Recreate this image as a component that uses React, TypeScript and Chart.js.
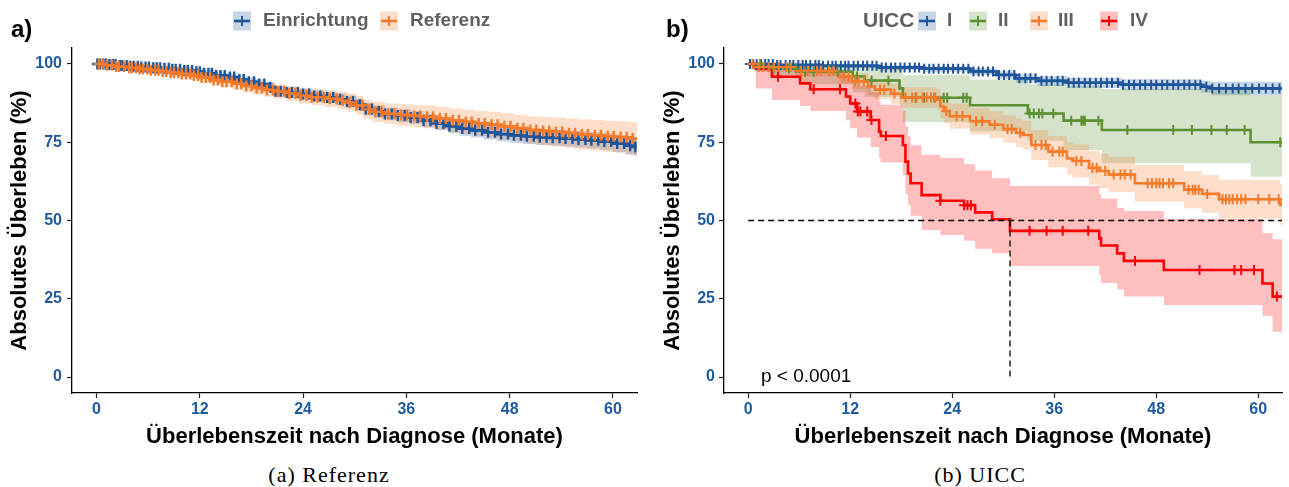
import React, { useEffect, useRef } from 'react';
import { Chart, registerables } from 'chart.js';
Chart.register(...registerables);

// ---------- axes ----------
const X_TICKS = [0, 12, 24, 36, 48, 60];
const Y_TICKS = [0, 25, 50, 75, 100];
const X_MIN = -2.85;
const X_MAX = 62.8;
const Y_MIN = -5.1;
const Y_MAX = 105.1;

// ---------- panel a: Einrichtung ----------
const EIN_T = [0, 1.2, 2.5, 3.8, 5.0, 6.3, 7.5, 8.8, 10.0, 11.2, 12.5, 13.7, 15.0, 16.2, 17.4, 18.5, 19.6, 20.7, 22.0, 23.5, 25.0, 26.3, 27.8, 29.0, 30.2, 31.0, 32.2, 33.5, 35.0, 36.5, 38.0, 39.5, 41.0, 42.2, 43.5, 45.0, 46.5, 48.0, 49.5, 51.0, 52.5, 54.0, 55.5, 57.0, 58.5, 60.0, 61.5, 62.5];
const EIN_S = [100, 99.8, 99.5, 99.3, 99.0, 98.8, 98.6, 98.3, 97.9, 97.5, 97.0, 96.3, 95.8, 95.0, 94.3, 93.6, 92.6, 91.3, 90.9, 90.4, 89.8, 89.3, 88.7, 88.0, 87.0, 85.6, 84.8, 84.0, 83.5, 82.9, 81.9, 81.0, 80.1, 79.4, 78.8, 78.2, 77.6, 77.2, 76.9, 76.6, 76.4, 76.2, 75.9, 75.6, 75.2, 74.6, 73.9, 73.5];
const EIN_LO = [100, 99.4, 99.0, 98.7, 98.3, 98.0, 97.7, 97.3, 96.8, 96.4, 95.8, 95.0, 94.4, 93.5, 92.8, 92.0, 91.0, 89.6, 89.2, 88.6, 88.0, 87.5, 86.9, 86.1, 85.1, 83.6, 82.8, 82.0, 81.4, 80.8, 79.8, 78.8, 77.9, 77.1, 76.5, 75.9, 75.2, 74.8, 74.4, 74.1, 73.9, 73.6, 73.3, 73.0, 72.5, 71.9, 71.1, 70.6];
const EIN_HI = [100, 100, 100, 99.9, 99.7, 99.5, 99.4, 99.2, 98.9, 98.6, 98.2, 97.6, 97.1, 96.4, 95.8, 95.1, 94.2, 93.0, 92.6, 92.1, 91.6, 91.1, 90.6, 89.9, 88.9, 87.6, 86.8, 86.0, 85.6, 85.0, 84.0, 83.2, 82.3, 81.7, 81.1, 80.5, 80.0, 79.6, 79.4, 79.1, 78.9, 78.8, 78.5, 78.2, 77.9, 77.3, 76.7, 76.4];
const EIN_CENSOR = [0.1, 0.4, 0.8, 1.1, 1.5, 1.9, 2.2, 2.7, 3.0, 3.5, 3.9, 4.3, 4.8, 5.2, 5.7, 6.1, 6.6, 7.0, 7.4, 7.9, 8.4, 8.8, 9.2, 9.7, 10.2, 10.6, 11.1, 11.6, 12.0, 12.5, 13.0, 13.4, 13.9, 14.4, 14.9, 15.5, 16.0, 16.6, 17.1, 17.7, 18.3, 18.9, 19.5, 20.2, 20.8, 21.4, 22.1, 22.7, 23.4, 24.0, 24.7, 25.3, 26.0, 26.8, 27.5, 28.3, 29.1, 29.8, 30.6, 31.3, 32.0, 32.8, 33.5, 34.3, 35.0, 35.8, 36.5, 37.3, 38.0, 38.8, 39.5, 40.3, 41.0, 41.8, 42.5, 43.3, 44.0, 44.8, 45.5, 46.3, 47.0, 47.8, 48.5, 49.3, 50.0, 50.8, 51.5, 52.3, 53.0, 53.8, 54.5, 55.3, 56.0, 56.8, 57.5, 58.3, 59.0, 59.8, 60.5, 61.3, 62.0, 62.6];

// ---------- panel a: Referenz ----------
const REF_T = [0, 1.0, 2.2, 3.5, 4.8, 6.0, 7.3, 8.5, 9.8, 11.0, 12.2, 13.4, 14.6, 15.8, 17.0, 18.2, 19.4, 20.6, 22.0, 23.5, 25.0, 26.5, 28.0, 29.2, 30.2, 31.0, 32.0, 33.5, 35.0, 36.5, 38.0, 39.5, 41.0, 42.5, 44.0, 45.5, 47.0, 48.5, 50.0, 51.5, 53.0, 54.5, 56.0, 57.5, 59.0, 60.5, 62.0];
const REF_S = [100, 99.6, 99.2, 98.8, 98.4, 98.0, 97.6, 97.2, 96.8, 96.3, 95.7, 94.9, 94.3, 93.7, 93.0, 92.3, 91.7, 91.2, 90.6, 89.9, 89.4, 88.9, 88.3, 87.7, 86.8, 85.5, 84.7, 84.1, 83.7, 83.4, 83.1, 82.6, 82.0, 81.5, 81.0, 80.6, 80.1, 79.5, 78.9, 78.6, 78.3, 77.9, 77.5, 77.2, 76.9, 76.6, 76.2];
const REF_LO = [100, 99.0, 98.4, 97.9, 97.4, 96.9, 96.4, 95.9, 95.4, 94.8, 94.1, 93.2, 92.5, 91.8, 91.0, 90.2, 89.5, 88.9, 88.2, 87.4, 86.8, 86.2, 85.5, 84.8, 83.8, 82.4, 81.5, 80.8, 80.3, 79.9, 79.5, 78.9, 78.2, 77.6, 77.0, 76.5, 75.9, 75.2, 74.5, 74.1, 73.7, 73.2, 72.7, 72.3, 71.9, 71.5, 71.0];
const REF_HI = [100, 100, 100, 99.7, 99.4, 99.1, 98.8, 98.5, 98.2, 97.8, 97.3, 96.6, 96.1, 95.6, 95.0, 94.4, 93.9, 93.5, 93.0, 92.4, 92.0, 91.6, 91.1, 90.6, 89.8, 88.6, 87.9, 87.4, 87.1, 86.9, 86.7, 86.3, 85.8, 85.4, 85.0, 84.7, 84.3, 83.8, 83.3, 83.1, 82.9, 82.6, 82.3, 82.1, 81.9, 81.7, 81.4];
const REF_CENSOR = [0.3, 0.7, 1.2, 1.8, 2.3, 2.6, 3.2, 3.8, 4.1, 4.6, 5.0, 5.4, 5.9, 6.3, 6.8, 7.2, 7.7, 8.1, 8.6, 9.0, 9.5, 9.9, 10.4, 10.9, 11.3, 11.8, 12.2, 12.7, 13.2, 13.6, 14.1, 14.6, 15.1, 15.7, 16.3, 16.8, 17.4, 18.0, 18.6, 19.2, 19.8, 20.5, 21.1, 21.8, 22.4, 23.1, 23.7, 24.4, 25.0, 25.7, 26.4, 27.1, 27.9, 28.6, 29.4, 30.2, 30.9, 31.7, 32.4, 33.1, 33.9, 34.6, 35.4, 36.1, 36.9, 37.6, 38.4, 39.1, 39.9, 40.6, 41.4, 42.1, 42.9, 43.6, 44.4, 45.1, 45.9, 46.6, 47.4, 48.1, 48.9, 49.6, 50.4, 51.1, 51.9, 52.6, 53.4, 54.1, 54.9, 55.6, 56.4, 57.1, 57.9, 58.6, 59.4, 60.1, 60.9, 61.6, 62.3];

// ---------- panel b: UICC I ----------
const I_T = [0, 3.0, 8.7, 15.3, 20.7, 26.1, 29.2, 31.5, 34.0, 37.6, 44.0, 53.3, 54.5];
const I_S = [100, 99.7, 99.4, 98.9, 98.5, 97.6, 96.5, 95.4, 94.6, 94.0, 93.4, 92.7, 92.2];
const I_LO = [100, 99.2, 98.7, 98.0, 97.5, 96.5, 95.2, 94.0, 93.0, 92.3, 91.6, 90.8, 90.0];
const I_HI = [100, 100, 100, 99.6, 99.3, 98.6, 97.7, 96.8, 96.1, 95.6, 95.1, 94.6, 94.3];
const I_CENSOR = [0.2, 0.6, 1.0, 1.5, 2.0, 2.4, 2.9, 3.4, 3.8, 4.4, 4.9, 5.3, 5.9, 6.4, 6.8, 7.3, 7.9, 8.3, 8.8, 9.4, 9.9, 10.3, 10.9, 11.4, 11.8, 12.4, 12.9, 13.5, 14.0, 14.6, 15.1, 15.7, 16.2, 16.8, 17.3, 17.9, 18.4, 19.0, 19.6, 20.1, 20.7, 21.3, 21.8, 22.4, 23.0, 23.5, 24.1, 24.7, 25.3, 25.9, 26.5, 27.1, 27.6, 28.2, 28.8, 29.5, 30.1, 30.7, 31.3, 31.9, 32.6, 33.2, 33.8, 34.5, 35.1, 35.7, 36.4, 37.0, 37.7, 38.3, 38.9, 39.6, 40.2, 40.9, 41.5, 42.2, 42.8, 43.5, 44.1, 44.8, 45.4, 46.1, 46.7, 47.4, 48.0, 48.7, 49.3, 50.0, 50.6, 51.3, 51.9, 52.6, 53.2, 53.9, 54.6, 55.4, 56.2, 57.0, 57.7, 58.5, 59.3, 60.1, 60.9, 61.7, 62.5];

// ---------- panel b: UICC II ----------
const II_T = [0, 2.5, 6.0, 12.3, 13.7, 17.8, 18.2, 26.1, 32.9, 37.1, 41.6, 59.1];
const II_S = [100, 98.6, 97.5, 96.0, 94.7, 92.2, 89.2, 86.8, 84.2, 81.9, 78.9, 75.0];
const II_LO = [100, 96.0, 93.5, 91.0, 89.5, 87.0, 81.5, 78.5, 75.5, 72.5, 68.3, 64.0];
const II_HI = [100, 100, 100, 99.5, 99.0, 98.5, 96.5, 95.0, 93.5, 93.0, 92.0, 90.0];
const II_CENSOR = [1.4, 3.0, 4.8, 5.6, 6.7, 7.7, 10.5, 12.8, 14.5, 16.5, 19.7, 20.7, 21.9, 23.0, 23.4, 25.3, 25.7, 33.1, 33.6, 34.2, 34.6, 35.9, 38.0, 39.2, 39.4, 39.6, 41.2, 44.6, 50.0, 52.2, 54.5, 56.3, 58.4, 62.6];

// ---------- panel b: UICC III ----------
const III_T = [0, 1.0, 5.6, 10.6, 12.2, 14.1, 14.9, 16.8, 18.0, 22.2, 22.6, 23.0, 23.7, 26.1, 28.4, 30.0, 31.5, 32.3, 33.3, 35.3, 37.5, 38.2, 40.1, 41.3, 42.4, 45.5, 51.3, 53.4, 55.4, 62.6];
const III_S = [100, 99.0, 97.8, 96.0, 94.5, 92.8, 91.8, 90.5, 89.3, 88.6, 86.5, 85.0, 83.3, 81.7, 80.6, 79.2, 78.0, 77.3, 74.1, 72.0, 69.8, 69.0, 66.8, 65.8, 64.7, 61.9, 59.8, 58.5, 56.8, 55.0];
const III_LO = [100, 97.5, 96.0, 93.8, 92.0, 90.0, 88.8, 87.3, 86.0, 85.2, 82.8, 81.1, 79.3, 77.5, 76.3, 74.8, 73.5, 72.7, 69.3, 67.0, 64.6, 63.7, 61.4, 60.3, 59.1, 56.1, 53.9, 52.5, 50.6, 48.5];
const III_HI = [100, 100, 99.4, 98.2, 97.0, 95.6, 94.8, 93.7, 92.6, 92.0, 90.2, 88.9, 87.3, 85.9, 84.9, 83.6, 82.5, 81.9, 78.9, 77.0, 75.0, 74.3, 72.2, 71.3, 70.3, 67.7, 65.7, 64.5, 63.0, 61.5];
const III_CENSOR = [0.5, 1.2, 1.8, 2.4, 3.0, 3.6, 4.5, 5.0, 6.2, 7.0, 8.1, 8.6, 9.5, 10.0, 11.2, 11.8, 12.6, 13.0, 13.6, 15.5, 16.0, 17.2, 18.5, 19.3, 19.8, 20.5, 21.0, 21.5, 22.0, 23.3, 24.5, 25.2, 26.8, 27.5, 29.0, 30.5, 31.0, 32.0, 33.8, 34.5, 35.0, 35.8, 36.6, 37.0, 38.6, 39.2, 40.5, 41.0, 42.0, 43.0, 43.8, 44.3, 45.0, 47.0, 47.5, 48.0, 48.4, 48.8, 49.5, 50.0, 51.8, 52.3, 52.6, 53.0, 54.0, 55.8, 56.2, 56.6, 57.0, 57.5, 58.0, 58.5, 60.0, 61.3, 62.4];

// ---------- panel b: UICC IV ----------
const IV_T = [0, 0.9, 2.8, 6.1, 7.3, 11.5, 12.0, 12.8, 14.4, 15.4, 15.6, 18.2, 18.5, 18.8, 19.1, 20.4, 22.6, 25.4, 26.7, 28.7, 30.8, 41.3, 41.5, 43.4, 44.2, 48.9, 60.5, 61.7];
const IV_S = [100, 98.4, 95.9, 93.8, 91.9, 89.6, 87.4, 84.8, 82.1, 78.4, 77.0, 74.1, 68.8, 65.0, 61.9, 58.1, 56.3, 54.9, 52.6, 50.4, 46.7, 44.3, 42.0, 39.5, 37.1, 34.2, 29.9, 25.7];
const IV_LO = [100, 92.2, 88.5, 86.6, 85.0, 82.0, 79.5, 76.5, 73.5, 70.0, 68.5, 64.5, 58.5, 55.0, 51.5, 47.0, 45.4, 43.5, 41.0, 39.5, 35.5, 32.5, 30.0, 28.0, 25.7, 23.0, 19.6, 14.5];
const IV_HI = [100, 100, 100, 99.0, 98.0, 96.0, 95.0, 93.0, 91.0, 88.0, 87.0, 85.0, 80.0, 77.0, 74.0, 71.0, 70.0, 68.0, 66.0, 63.5, 61.0, 58.5, 57.0, 54.0, 53.0, 50.5, 46.0, 44.0];
const IV_CENSOR = [3.5, 7.7, 10.8, 12.6, 12.9, 13.2, 14.0, 14.5, 16.2, 22.6, 25.4, 25.8, 26.2, 33.1, 35.1, 37.0, 40.0, 45.5, 53.1, 57.2, 58.0, 59.5, 62.2];

const MEDIAN_Y = 50;
const MEDIAN_IV_T = 30.8;
const P_TEXT = 'p < 0.0001';

// ---------- styles ----------
const FONT = '"Liberation Sans", Arial, sans-serif';
const TICK_BLUE = '#1F5A9F';
const C_BLUE = '#1F569B';
const C_ORANGE = '#F57A2A';
const C_GREEN = '#5D9132';
const C_RED = '#FF0000';
const F_BLUE = 'rgba(31,86,155,0.25)';
const F_ORANGE = 'rgba(245,122,42,0.25)';
const F_GREEN = 'rgba(93,145,50,0.25)';
const F_RED = 'rgba(255,0,0,0.25)';
const LEGEND_GREY = '#606060';

function survAt(t: number[], s: number[], x: number) {
  let v = s[0];
  for (let i = 0; i < t.length; i++) if (t[i] <= x) v = s[i];
  return v;
}

function toPts(t: number[], v: number[]) {
  const pts = t.map((x, i) => ({ x, y: v[i] }));
  pts.push({ x: X_MAX + 1, y: v[v.length - 1] });
  return pts;
}

function kmSets(color: string, fill: string, t: number[], s: number[], lo: number[], hi: number[], cens: number[], idx: number, markR: number, markW: number) {
  const bands = [
    { type: 'line', data: toPts(t, lo), stepped: true, borderColor: 'rgba(0,0,0,0)', borderWidth: 1, pointRadius: 0, fill: false, order: 100 - idx },
    { type: 'line', data: toPts(t, hi), stepped: true, borderColor: 'rgba(0,0,0,0)', borderWidth: 1, pointRadius: 0, fill: '-1', backgroundColor: fill, order: 100 - idx },
  ];
  const line = { type: 'line', data: toPts(t, s), stepped: true, borderColor: color, borderWidth: 2.6, pointRadius: 0, fill: false, order: 50 - idx };
  const marks = {
    type: 'scatter',
    data: cens.map((c) => ({ x: c, y: survAt(t, s, c) })),
    pointStyle: 'cross', pointRadius: markR, borderColor: color, backgroundColor: color, borderWidth: markW, order: 20 - idx,
  };
  return { bands, line, marks };
}

function makeOptions(yAxisWidth: number, rightPad: number, yTitlePad: number, tickPadY: number) {
  const tickFont = { family: FONT, size: 16, weight: 'bold' as const };
  const titleFont = { family: FONT, size: 22, weight: 'bold' as const };
  return {
    animation: false,
    responsive: false,
    maintainAspectRatio: false,
    events: [],
    layout: { padding: { top: 48, right: rightPad, bottom: 0, left: 0 } },
    plugins: { legend: { display: false }, tooltip: { enabled: false }, title: { display: false } },
    scales: {
      x: {
        type: 'linear', min: X_MIN, max: X_MAX,
        afterBuildTicks: (sc: any) => { sc.ticks = X_TICKS.map((v) => ({ value: v })); },
        afterFit: (sc: any) => { sc.height = 67; sc.paddingLeft = 0; sc.paddingRight = 0; },
        ticks: { color: TICK_BLUE, font: tickFont, padding: 2, maxRotation: 0, autoSkip: false },
        grid: { drawOnChartArea: false, drawTicks: true, tickLength: 5, tickColor: '#222', tickWidth: 1.2 },
        border: { display: true, color: '#000', width: 1.3 },
        title: { display: true, text: 'Überlebenszeit nach Diagnose (Monate)', color: '#000', font: titleFont, padding: { top: 0, bottom: 10 } },
      },
      y: {
        type: 'linear', min: Y_MIN, max: Y_MAX,
        afterBuildTicks: (sc: any) => { sc.ticks = Y_TICKS.map((v) => ({ value: v })); },
        afterFit: (sc: any) => { sc.width = yAxisWidth; sc.paddingTop = 0; sc.paddingBottom = 0; },
        ticks: { color: TICK_BLUE, font: tickFont, padding: tickPadY },
        grid: { drawOnChartArea: false, drawTicks: true, tickLength: 5, tickColor: '#222', tickWidth: 1.2 },
        border: { display: true, color: '#000', width: 1.3 },
        title: { display: true, text: 'Absolutes Überleben (%)', color: '#000', font: titleFont, padding: { top: yTitlePad, bottom: 0 } },
      },
    },
  };
}

type LegendItem = { label: string; color: string; fill: string; boxX: number; textX: number };
type Deco = { letter: string; letterX: number; legendTitle?: string; legendTitleX?: number; items: LegendItem[]; pText?: string };

function decoPlugin(cfg: Deco) {
  return {
    id: 'deco',
    afterDraw(chart: any) {
      const ctx = chart.ctx as CanvasRenderingContext2D;
      ctx.save();
      ctx.textBaseline = 'middle';
      ctx.textAlign = 'left';
      ctx.fillStyle = '#000';
      ctx.font = `bold 24px ${FONT}`;
      ctx.fillText(cfg.letter, cfg.letterX, 30);
      const ly = 21;
      if (cfg.legendTitle) {
        ctx.fillStyle = LEGEND_GREY;
        ctx.font = `bold 21px ${FONT}`;
        ctx.fillText(cfg.legendTitle, cfg.legendTitleX || 0, ly);
      }
      for (const it of cfg.items) {
        const bw = 18, bh = 19;
        const bx = it.boxX, by = ly - bh / 2;
        ctx.fillStyle = it.fill;
        ctx.fillRect(bx, by, bw, bh);
        ctx.strokeStyle = it.color;
        ctx.lineWidth = 2.6;
        ctx.beginPath(); ctx.moveTo(bx + 1, ly); ctx.lineTo(bx + bw - 1, ly); ctx.stroke();
        ctx.lineWidth = 2;
        ctx.beginPath(); ctx.moveTo(bx + bw / 2, ly - 5); ctx.lineTo(bx + bw / 2, ly + 5); ctx.stroke();
        ctx.fillStyle = LEGEND_GREY;
        ctx.font = `bold 19px ${FONT}`;
        ctx.fillText(it.label, it.textX, ly);
      }
      if (cfg.pText) {
        const xs = chart.scales.x, ys = chart.scales.y;
        ctx.fillStyle = '#000';
        ctx.font = `19px ${FONT}`;
        ctx.fillText(cfg.pText, xs.getPixelForValue(1.5), ys.getPixelForValue(0));
      }
      ctx.restore();
    },
  };
}

export default function App() {
  const refA = useRef<HTMLCanvasElement | null>(null);
  const refB = useRef<HTMLCanvasElement | null>(null);

  useEffect(() => {
    document.body.style.margin = '0';
    const ein = kmSets(C_BLUE, F_BLUE, EIN_T, EIN_S, EIN_LO, EIN_HI, EIN_CENSOR, 0, 5.5, 2.4);
    const ref = kmSets(C_ORANGE, F_ORANGE, REF_T, REF_S, REF_LO, REF_HI, REF_CENSOR, 1, 5.5, 2.4);
    const chartA = new Chart(refA.current as HTMLCanvasElement, {
      type: 'line',
      data: { datasets: [...ein.bands, ...ref.bands, ein.line, ref.line, ein.marks, ref.marks] as any },
      options: makeOptions(72, 8, 7, 5) as any,
      plugins: [decoPlugin({
        letter: 'a)', letterX: 11,
        items: [
          { label: 'Einrichtung', color: C_BLUE, fill: F_BLUE, boxX: 233, textX: 263 },
          { label: 'Referenz', color: C_ORANGE, fill: F_ORANGE, boxX: 380, textX: 410 },
        ],
      })],
    });

    const s1 = kmSets(C_BLUE, F_BLUE, I_T, I_S, I_LO, I_HI, I_CENSOR, 0, 5, 2);
    const s2 = kmSets(C_GREEN, F_GREEN, II_T, II_S, II_LO, II_HI, II_CENSOR, 1, 5, 2);
    const s3 = kmSets(C_ORANGE, F_ORANGE, III_T, III_S, III_LO, III_HI, III_CENSOR, 2, 5, 2);
    const s4 = kmSets(C_RED, F_RED, IV_T, IV_S, IV_LO, IV_HI, IV_CENSOR, 3, 5, 2);
    const dash = { type: 'line', borderColor: '#000', borderWidth: 1.3, borderDash: [6, 4], pointRadius: 0, fill: false, order: 5 };
    const chartB = new Chart(refB.current as HTMLCanvasElement, {
      type: 'line',
      data: {
        datasets: [
          ...s1.bands, ...s2.bands, ...s3.bands, ...s4.bands,
          s1.line, s2.line, s3.line, s4.line,
          s1.marks, s2.marks, s3.marks, s4.marks,
          { ...dash, data: [{ x: 0, y: MEDIAN_Y }, { x: X_MAX + 1, y: MEDIAN_Y }] },
          { ...dash, data: [{ x: MEDIAN_IV_T, y: MEDIAN_Y }, { x: MEDIAN_IV_T, y: 0 }] },
        ] as any,
      },
      options: makeOptions(79, 0, 15, 4) as any,
      plugins: [decoPlugin({
        letter: 'b)', letterX: 21,
        legendTitle: 'UICC', legendTitleX: 218,
        items: [
          { label: 'I', color: C_BLUE, fill: F_BLUE, boxX: 273, textX: 302 },
          { label: 'II', color: C_GREEN, fill: F_GREEN, boxX: 324, textX: 353 },
          { label: 'III', color: C_ORANGE, fill: F_ORANGE, boxX: 385, textX: 413 },
          { label: 'IV', color: C_RED, fill: F_RED, boxX: 455, textX: 485 },
        ],
        pText: P_TEXT,
      })],
    });
    return () => { chartA.destroy(); chartB.destroy(); };
  }, []);

  const capStyle: React.CSSProperties = {
    position: 'absolute', top: 463, width: 400, textAlign: 'center',
    fontFamily: '"Liberation Serif", "Times New Roman", serif', fontSize: 22, letterSpacing: 1, color: '#000', lineHeight: '24px',
  };

  return (
    <div style={{ position: 'relative', width: 1289, height: 487, background: '#fff', overflow: 'hidden' }}>
      <canvas ref={refA} width={645} height={460} style={{ position: 'absolute', left: 0, top: 0 }} />
      <canvas ref={refB} width={644} height={460} style={{ position: 'absolute', left: 645, top: 0 }} />
      <div style={{ ...capStyle, left: 329 - 200 }}>(a) Referenz</div>
      <div style={{ ...capStyle, left: 980 - 200 }}>(b) UICC</div>
    </div>
  );
}
